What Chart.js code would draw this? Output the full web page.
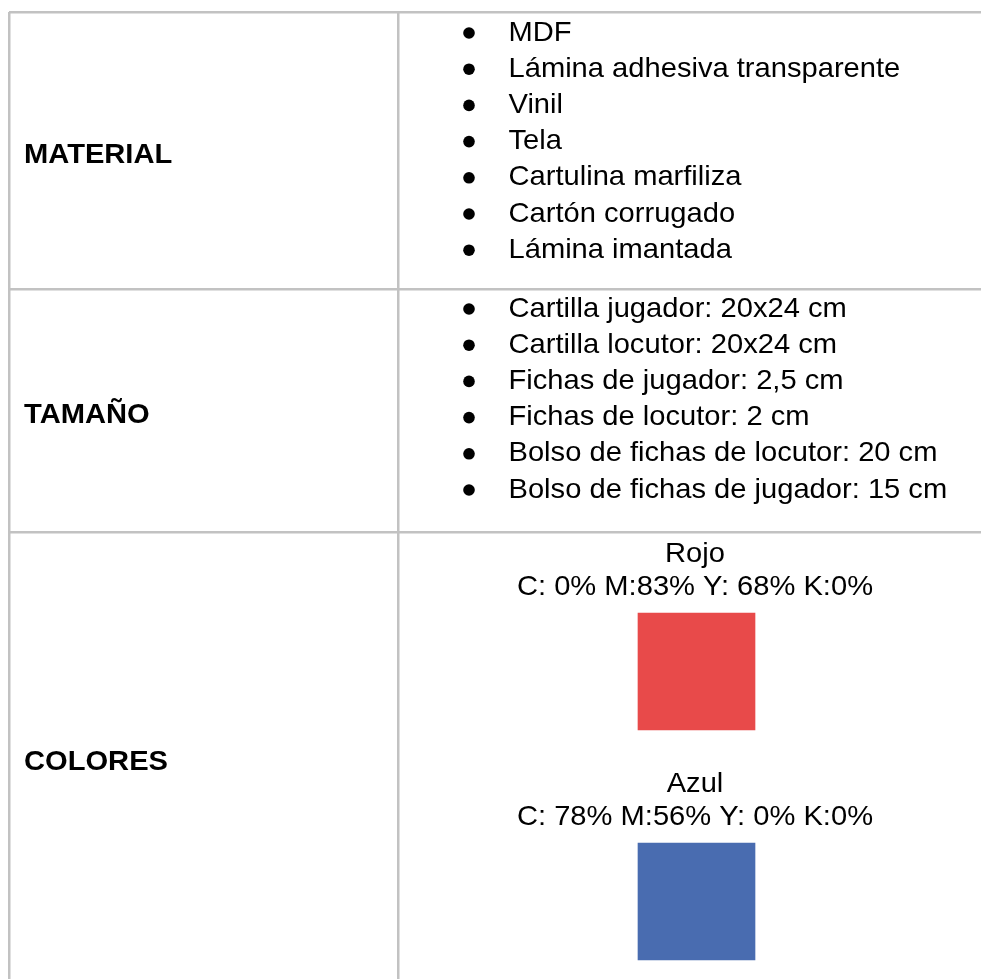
<!DOCTYPE html>
<html>
<head>
<meta charset="utf-8">
<title>Material, tamaño y colores</title>
<script src="https://cdn.jsdelivr.net/npm/chart.js@4.4.1/dist/chart.umd.min.js"></script>
<style>
	html, body { margin: 0; padding: 0; background: #fff; }
	canvas { display: block; }
</style>
</head>
<body>
<canvas id="tabla" width="981" height="979"></canvas>
<script>
// DATOS
const filas = ['MATERIAL', 'TAMAÑO', 'COLORES'];
const materiales = ['MDF', 'Lámina adhesiva transparente', 'Vinil', 'Tela', 'Cartulina marfiliza', 'Cartón corrugado', 'Lámina imantada'];
const tamanos = ['Cartilla jugador: 20x24 cm', 'Cartilla locutor: 20x24 cm', 'Fichas de jugador: 2,5 cm', 'Fichas de locutor: 2 cm', 'Bolso de fichas de locutor: 20 cm', 'Bolso de fichas de jugador: 15 cm'];
const colores = ['Rojo', 'Azul'];
const codigosCMYK = ['C: 0% M:83% Y: 68% K:0%', 'C: 78% M:56% Y: 0% K:0%'];
const muestras = ['#e84a4a', '#496cb0'];

// LAYOUT (unidades = pixeles de la tabla)
const lineasX = [9, 398];
const lineasY = [12, 289, 532];
const interlinea = 36.2;
const inicioListas = [40.5, 316.5];
const baseEncabezados = [163, 423, 770];
const xEncabezado = 24;
const xViñeta = 469;
const xTextoLista = 508.5;
const xCentroColor = 695;
const ladoMuestra = 117;
const topMuestra = 613;
const pasoMuestra = 230;

const listas = [materiales, tamanos];

// viñetas: un punto por item de lista
const puntosViñeta = [];
listas.forEach((lista, l) => {
	lista.forEach((item, i) => {
		puntosViñeta.push({ x: xViñeta, y: inicioListas[l] + i * interlinea - 7.5 });
	});
});

// muestras de color como barras flotantes
const barrasMuestra = colores.map((c, i) => {
	const top = topMuestra + i * pasoMuestra;
	return { x: xCentroColor + 1.5, y: [top, top + ladoMuestra] };
});

function texto(ctx, str, x, y, align, bold) {
	ctx.save();
	ctx.font = (bold ? 'bold ' : '') + '28px "Liberation Sans", Arial, sans-serif';
	ctx.fillStyle = '#000';
	ctx.textAlign = align;
	ctx.textBaseline = 'alphabetic';
	ctx.translate(x, y);
	ctx.scale(1.04, 1);
	ctx.fillText(str, 0, 0);
	ctx.restore();
}

const textosTabla = {
	id: 'textosTabla',
	afterDatasetsDraw(chart) {
		const ctx = chart.ctx;
		const xs = chart.scales.x;
		const ys = chart.scales.y;

		filas.forEach((f, i) => {
			texto(ctx, f, xs.getPixelForValue(xEncabezado), ys.getPixelForValue(baseEncabezados[i]), 'left', true);
		});

		listas.forEach((lista, l) => {
			lista.forEach((item, i) => {
				texto(ctx, item, xs.getPixelForValue(xTextoLista), ys.getPixelForValue(inicioListas[l] + i * interlinea), 'left', false);
			});
		});

		colores.forEach((c, i) => {
			const top = topMuestra + i * pasoMuestra;
			texto(ctx, c, xs.getPixelForValue(xCentroColor), ys.getPixelForValue(top - 51.5), 'center', false);
			texto(ctx, codigosCMYK[i], xs.getPixelForValue(xCentroColor), ys.getPixelForValue(top - 18), 'center', false);
		});
	}
};

const ctx = document.getElementById('tabla').getContext('2d');
const tabla = new Chart(ctx, {
	type: 'bar',
	data: {
		datasets: [{
			type: 'bar',
			data: barrasMuestra,
			backgroundColor: muestras,
			borderWidth: 0,
			barThickness: ladoMuestra
		}, {
			type: 'scatter',
			data: puntosViñeta,
			backgroundColor: '#000',
			borderWidth: 0,
			pointRadius: 5.8,
			showLine: false
		}]
	},
	options: {
		responsive: false,
		animation: false,
		devicePixelRatio: 1,
		layout: { autoPadding: false, padding: { left: 9, top: 12, right: 0, bottom: 0 } },
		plugins: {
			legend: { display: false },
			tooltip: { enabled: false }
		},
		scales: {
			x: {
				type: 'linear',
				offset: false,
				min: 9,
				max: 981,
				afterBuildTicks: s => { s.ticks = lineasX.map(v => ({ value: v })); },
				ticks: { display: false },
				border: { display: false },
				grid: { offset: false, color: '#c2c2c2', lineWidth: 2.5, drawTicks: false }
			},
			y: {
				type: 'linear',
				reverse: true,
				offset: false,
				min: 12,
				max: 979,
				afterBuildTicks: s => { s.ticks = lineasY.map(v => ({ value: v })); },
				ticks: { display: false },
				border: { display: false },
				grid: { offset: false, color: '#c2c2c2', lineWidth: 2.5, drawTicks: false }
			}
		}
	},
	plugins: [textosTabla]
});
</script>
</body>
</html>
